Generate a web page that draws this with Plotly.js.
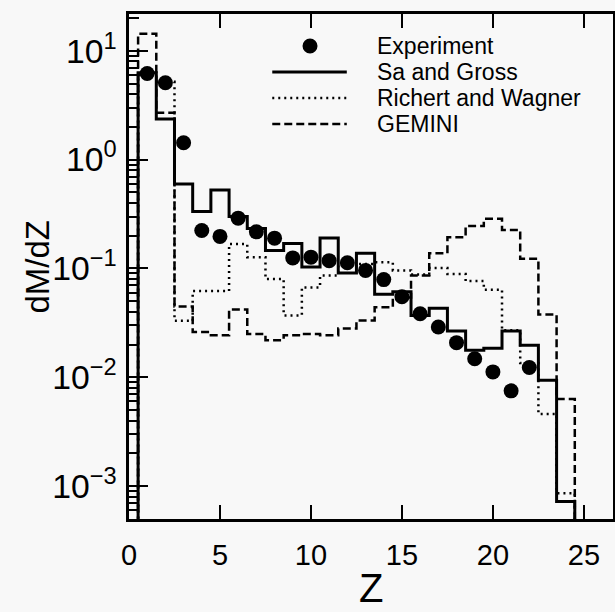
<!DOCTYPE html>
<html><head><meta charset="utf-8">
<script src="https://cdn.plot.ly/plotly-3.0.1.min.js"></script>
<style>html,body{margin:0;padding:0;background:#f8f8f8}</style>
</head><body>
<div id="chart" style="width:615px;height:612px"></div>
<script>
// ---- data ----
const binZ = [1,2,3,4,5,6,7,8,9,10,11,12,13,14,15,16,17,18,19,20,21,22,23,24];
const expZ = [1,2,3,4,5,6,7,8,9,10,11,12,13,14,15,16,17,18,19,20,21,22];
const experiment = [6.2,5.1,1.43,0.223,0.197,0.29,0.217,0.19,0.125,0.127,0.118,0.113,0.096,0.079,0.055,0.0384,0.029,0.0208,0.0148,0.0112,0.0075,0.0123];
const saGross = [6.3,2.36,0.598,0.333,0.527,0.30,0.233,0.146,0.17,0.103,0.191,0.0906,0.138,0.058,0.061,0.037,0.043,0.0266,0.0177,0.0185,0.0266,0.0197,0.0094,0.00072];
const richertWagner = [6.0,5.2,0.033,0.062,0.062,0.168,0.127,0.080,0.037,0.067,0.086,0.105,0.11,0.114,0.096,0.088,0.101,0.089,0.0765,0.0637,0.027,0.0135,0.0046,0.00086];
const gemini = [14.4,2.7,0.0448,0.0261,0.0243,0.042,0.025,0.0219,0.0243,0.025,0.0243,0.028,0.0333,0.044,0.054,0.086,0.138,0.194,0.246,0.286,0.226,0.123,0.0378,0.0063];
const seriesNames = ['Experiment','Sa and Gross','Richert and Wagner','GEMINI'];
const xTickVals = [0,5,10,15,20,25];
const yLabelAlias = {'1':'10<sup>0</sup>','10':'10<sup>1</sup>'};
const xTitle = 'Z', yTitle = 'dM/dZ';

// ---- build histogram outlines from the bin values ----
const HALF = 0.5, FLOOR = 1e-6;
function stepPath(zs, vals){
  const xs=[zs[0]-HALF], ys=[FLOOR];
  for(let i=0;i<zs.length;i++){ xs.push(zs[i]-HALF, zs[i]+HALF); ys.push(vals[i], vals[i]); }
  xs.push(zs[zs.length-1]+HALF); ys.push(FLOOR);
  return {x:xs, y:ys};
}
const gS = stepPath(binZ, gemini), rS = stepPath(binZ, richertWagner), sS = stepPath(binZ, saGross);

const traces = [
  {x:gS.x, y:gS.y, mode:'lines', name:seriesNames[3], line:{color:'#000', width:2.5, dash:'8px,4px'}, showlegend:false},
  {x:rS.x, y:rS.y, mode:'lines', name:seriesNames[2], line:{color:'#000', width:2.5, dash:'2px,4px'}, showlegend:false},
  {x:sS.x, y:sS.y, mode:'lines', name:seriesNames[1], line:{color:'#000', width:3}, showlegend:false},
  {x:expZ, y:experiment, mode:'markers', name:seriesNames[0], marker:{color:'#000', size:15}, showlegend:false}
];

// ---- legend drawn as decoration (paper coordinates) ----
const lgX0=0.296, lgX1=0.450, lgTextX=0.510;
const lgRows=[0.9366, 0.8851, 0.8337, 0.7822];
const shapes = [
  {type:'circle', xref:'paper', yref:'paper', xsizemode:'pixel', ysizemode:'pixel', xanchor:0.374, yanchor:lgRows[0], x0:-7.5, x1:7.5, y0:-7.5, y1:7.5, fillcolor:'#000', line:{width:0}},
  {type:'line', xref:'paper', yref:'paper', x0:lgX0, x1:lgX1, y0:lgRows[1], y1:lgRows[1], line:{color:'#000', width:3}},
  {type:'line', xref:'paper', yref:'paper', x0:lgX0, x1:lgX1, y0:lgRows[2], y1:lgRows[2], line:{color:'#000', width:2.5, dash:'2px,4px'}},
  {type:'line', xref:'paper', yref:'paper', x0:lgX0, x1:lgX1, y0:lgRows[3], y1:lgRows[3], line:{color:'#000', width:2.5, dash:'8px,4px'}}
];
const fam = 'Liberation Sans, Arial, sans-serif';
const annotations = seriesNames.map((n,i)=>({text:n, xref:'paper', yref:'paper', x:lgTextX, y:lgRows[i], xanchor:'left', yanchor:'middle', showarrow:false, borderpad:0, font:{family:fam, size:23, color:'#000'}}));
annotations.push({text:yTitle, xref:'paper', yref:'paper', x:-0.19, y:0.5, textangle:-90, xanchor:'center', yanchor:'middle', showarrow:false, font:{family:fam, size:33, color:'#000'}});
annotations.push({text:xTitle, xref:'paper', yref:'paper', x:0.5, y:-0.136, xanchor:'center', yanchor:'middle', showarrow:false, borderpad:0, font:{family:fam, size:40, color:'#000'}});

const layout = {
  width:615, height:612,
  margin:{l:129, r:2, t:14, b:93},
  paper_bgcolor:'#f8f8f8', plot_bgcolor:'#f8f8f8',
  showlegend:false,
  font:{family:fam, color:'#000'},
  xaxis:{
    range:[0,26.6], tickmode:'array', tickvals:xTickVals,
    ticks:'inside', ticklen:14, tickwidth:2, tickcolor:'#000',
    showline:true, linewidth:3, linecolor:'#000', mirror:'ticks',
    showgrid:false, zeroline:false,
    tickfont:{family:fam, size:29, color:'#000'},
    ticklabelstandoff:8
  },
  yaxis:{
    type:'log', range:[-3.303,1.339], tickmode:'linear', tick0:0, dtick:1,
    exponentformat:'power', labelalias:yLabelAlias,
    ticks:'inside', ticklen:19, tickwidth:2, tickcolor:'#000',
    minor:{ticks:'inside', ticklen:10, tickwidth:2, tickcolor:'#000', dtick:'D1', showgrid:false},
    showline:true, linewidth:3, linecolor:'#000', mirror:true,
    showgrid:false, zeroline:false,
    tickfont:{family:fam, size:27, color:'#000'},
    ticklabelstandoff:4
  },
  yaxis2:{
    type:'log', range:[-3.303,1.339], overlaying:'y', side:'right', tickmode:'linear', tick0:0, dtick:1,
    ticks:'inside', ticklen:12, tickwidth:2, tickcolor:'#000',
    minor:{ticks:'inside', ticklen:5, tickwidth:2, tickcolor:'#000', dtick:'D1', showgrid:false},
    showticklabels:false, showline:false, showgrid:false, zeroline:false
  },
  shapes:shapes, annotations:annotations
};
Plotly.newPlot('chart', traces, layout, {staticPlot:true, displayModeBar:false});
</script>
</body></html>
